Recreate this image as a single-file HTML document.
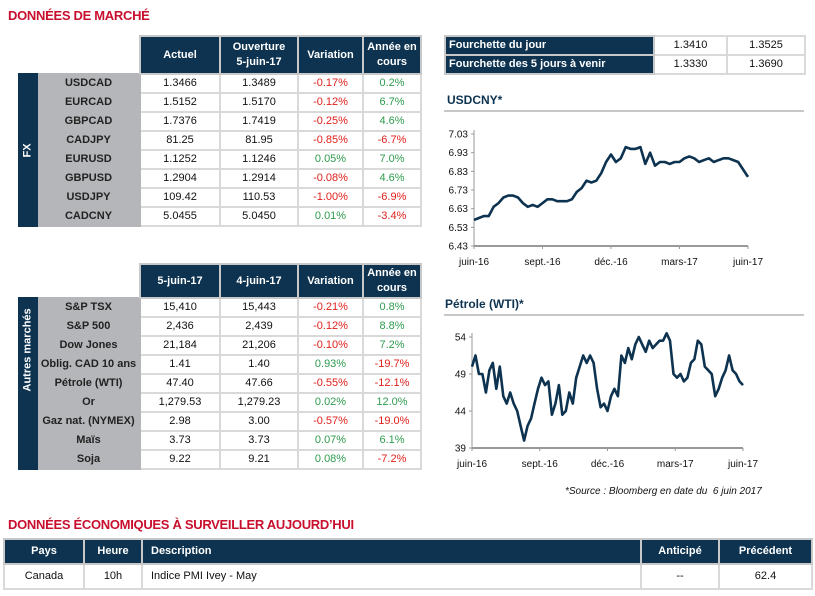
<!DOCTYPE html>
<html><head><meta charset="utf-8">
<style>
*{box-sizing:border-box;margin:0;padding:0}
body{width:815px;height:596px;background:#fff;position:relative;overflow:hidden;font-family:"Liberation Sans",sans-serif;font-size:11px;color:#111}
.title{position:absolute;color:#c8102e;font-weight:bold;font-size:13px;letter-spacing:-0.3px}
table{position:absolute;border-collapse:collapse;table-layout:fixed}
td,th{border:2px solid #d9d9d9;text-align:center;height:19px;line-height:15px;font-size:11px;white-space:nowrap;overflow:hidden}
th{background:#0d3350;color:#fff;font-weight:bold;border-color:#c8c8c8}
td.lab{background:#b5b6b9;font-weight:bold;color:#222;border-color:#b5b6b9}
td.side{background:#0d3350;color:#fff;font-weight:bold;border-color:#0d3350;width:18px}
td.side div{transform:rotate(-90deg);white-space:nowrap}
td.empty{border:none;background:none}
.r{color:#e0201b}.g{color:#2e9b4e}
.ctitle{position:absolute;font-weight:bold;color:#0d3350;font-size:12px}
.hline{position:absolute;height:2px;background:#c8c8c8}
svg{position:absolute;left:0;top:0}
svg text{font-family:"Liberation Sans",sans-serif;font-size:10px;fill:#111}
</style></head><body>
<div class="title" style="left:8px;top:8px">DONNÉES DE MARCHÉ</div>

<table style="left:18px;top:35px;width:402px">
<colgroup><col style="width:18px"><col style="width:103px"><col style="width:80px"><col style="width:78px"><col style="width:65px"><col style="width:58px"></colgroup>
<tr style="height:38px"><td class="empty" colspan="2"></td><th>Actuel</th><th>Ouverture<br>5-juin-17</th><th>Variation</th><th>Année en<br>cours</th></tr>
<tr><td class="side" rowspan="8"><div>FX</div></td><td class="lab">USDCAD</td><td>1.3466</td><td>1.3489</td><td class="r">-0.17%</td><td class="g">0.2%</td></tr>
<tr><td class="lab">EURCAD</td><td>1.5152</td><td>1.5170</td><td class="r">-0.12%</td><td class="g">6.7%</td></tr>
<tr><td class="lab">GBPCAD</td><td>1.7376</td><td>1.7419</td><td class="r">-0.25%</td><td class="g">4.6%</td></tr>
<tr><td class="lab">CADJPY</td><td>81.25</td><td>81.95</td><td class="r">-0.85%</td><td class="r">-6.7%</td></tr>
<tr><td class="lab">EURUSD</td><td>1.1252</td><td>1.1246</td><td class="g">0.05%</td><td class="g">7.0%</td></tr>
<tr><td class="lab">GBPUSD</td><td>1.2904</td><td>1.2914</td><td class="r">-0.08%</td><td class="g">4.6%</td></tr>
<tr><td class="lab">USDJPY</td><td>109.42</td><td>110.53</td><td class="r">-1.00%</td><td class="r">-6.9%</td></tr>
<tr><td class="lab">CADCNY</td><td>5.0455</td><td>5.0450</td><td class="g">0.01%</td><td class="r">-3.4%</td></tr>
</table>

<table style="left:18px;top:263px;width:402px">
<colgroup><col style="width:18px"><col style="width:103px"><col style="width:80px"><col style="width:78px"><col style="width:65px"><col style="width:58px"></colgroup>
<tr style="height:34px"><td class="empty" colspan="2"></td><th>5-juin-17</th><th>4-juin-17</th><th>Variation</th><th>Année en<br>cours</th></tr>
<tr><td class="side" rowspan="9"><div>Autres marchés</div></td><td class="lab">S&amp;P TSX</td><td>15,410</td><td>15,443</td><td class="r">-0.21%</td><td class="g">0.8%</td></tr>
<tr><td class="lab">S&amp;P 500</td><td>2,436</td><td>2,439</td><td class="r">-0.12%</td><td class="g">8.8%</td></tr>
<tr><td class="lab">Dow Jones</td><td>21,184</td><td>21,206</td><td class="r">-0.10%</td><td class="g">7.2%</td></tr>
<tr><td class="lab">Oblig. CAD 10 ans</td><td>1.41</td><td>1.40</td><td class="g">0.93%</td><td class="r">-19.7%</td></tr>
<tr><td class="lab">Pétrole (WTI)</td><td>47.40</td><td>47.66</td><td class="r">-0.55%</td><td class="r">-12.1%</td></tr>
<tr><td class="lab">Or</td><td>1,279.53</td><td>1,279.23</td><td class="g">0.02%</td><td class="g">12.0%</td></tr>
<tr><td class="lab">Gaz nat. (NYMEX)</td><td>2.98</td><td>3.00</td><td class="r">-0.57%</td><td class="r">-19.0%</td></tr>
<tr><td class="lab">Maïs</td><td>3.73</td><td>3.73</td><td class="g">0.07%</td><td class="g">6.1%</td></tr>
<tr><td class="lab">Soja</td><td>9.22</td><td>9.21</td><td class="g">0.08%</td><td class="r">-7.2%</td></tr>
</table>

<table style="left:444px;top:35px;width:360px">
<colgroup><col style="width:209px"><col style="width:73px"><col style="width:78px"></colgroup>
<tr><th style="text-align:left;padding-left:3px">Fourchette du jour</th><td>1.3410</td><td>1.3525</td></tr>
<tr><th style="text-align:left;padding-left:3px">Fourchette des 5 jours à venir</th><td>1.3330</td><td>1.3690</td></tr>
</table>

<div class="ctitle" style="left:447px;top:93px">USDCNY*</div>
<div class="hline" style="left:444px;top:110px;width:360px"></div>
<div class="ctitle" style="left:445px;top:297px">Pétrole (WTI)*</div>
<div class="hline" style="left:444px;top:314px;width:360px"></div>

<svg id="charts" width="815" height="596"></svg>

<div style="position:absolute;left:565px;top:486px;font-style:italic;font-size:10px">*Source : Bloomberg en date du &nbsp;6 juin 2017</div>

<div class="title" style="left:8px;top:517px">DONNÉES ÉCONOMIQUES À SURVEILLER AUJOURD’HUI</div>
<table style="left:3px;top:538px;width:808px">
<colgroup><col style="width:80px"><col style="width:58px"><col style="width:499px"><col style="width:78px"><col style="width:93px"></colgroup>
<tr style="height:25px"><th>Pays</th><th>Heure</th><th style="text-align:left;padding-left:8px">Description</th><th>Anticipé</th><th>Précédent</th></tr>
<tr style="height:25px"><td>Canada</td><td>10h</td><td style="text-align:left;padding-left:8px">Indice PMI Ivey - May</td><td>--</td><td>62.4</td></tr>
</table>

<script>
const months = ["juin-16","sept.-16","déc.-16","mars-17","juin-17"];
const cnyTicks = [6.43,6.53,6.63,6.73,6.83,6.93,7.03];
const cnyValues = [6.57,6.58,6.59,6.59,6.64,6.66,6.69,6.70,6.70,6.69,6.66,6.64,6.65,6.64,6.66,6.68,6.68,6.67,6.67,6.67,6.68,6.72,6.74,6.78,6.77,6.78,6.82,6.88,6.92,6.88,6.90,6.96,6.95,6.95,6.96,6.87,6.93,6.86,6.88,6.88,6.87,6.88,6.88,6.90,6.91,6.90,6.88,6.89,6.90,6.88,6.89,6.90,6.90,6.89,6.88,6.84,6.80];
const wtiTicks = [39,44,49,54];
const wtiValues = [50,51.5,49,49,46.5,49.5,50.5,47,50,46,45,46.5,45,44,42,40,42,43,45,47,48.5,47.5,48,43.5,45,47.5,43.5,44,46.5,45,48.5,50,51.5,50.5,51.5,50.5,47,44.5,45,44,46,47,46,51.5,50.5,52.5,51,53,54,53,52,53.5,52.5,53,53.5,53.5,54.5,53.5,49,48.5,49,48,48.5,50.5,51,53.5,53,50,49.5,49,46,47,48.5,49.5,51.5,49.5,49,48,47.5];

const svg = document.getElementById('charts');
const NS = 'http://www.w3.org/2000/svg';
function mk(tag, attrs){const e=document.createElementNS(NS,tag);for(const k in attrs)e.setAttribute(k,attrs[k]);svg.appendChild(e);return e;}

function drawChart(name, values, ticks, x0, x1, yTop, yBot, labelY, decimals){
  const vmin=ticks[0], vmax=ticks[ticks.length-1];
  const xs=i=>x0+(x1-x0)*i/(values.length-1);
  const ys=v=>yBot-(yBot-yTop)*(v-vmin)/(vmax-vmin);
  const ax=mk('line',{x1:x0,y1:yTop-4,x2:x0,y2:yBot,stroke:'#999','stroke-width':1});
  
  
  const bx=mk('line',{x1:x0,y1:yBot,x2:x1,y2:yBot,stroke:'#999','stroke-width':2});
  
  
  ticks.forEach(t=>{
    mk('line',{x1:x0-3,y1:ys(t),x2:x0,y2:ys(t),stroke:'#999'});
    const tx=mk('text',{x:x0-6,y:ys(t)+3.5,'text-anchor':'end'});
    tx.textContent=t.toFixed(decimals);
    
    
  });
  months.forEach((m,i)=>{
    const x=x0+(x1-x0)*i/(months.length-1);
    mk('line',{x1:x,y1:yBot,x2:x,y2:yBot+3,stroke:'#999'});
    const tx=mk('text',{x:x,y:labelY,'text-anchor':'middle'});
    tx.textContent=m;
    
    
  });
  const d=values.map((v,i)=>(i?'L':'M')+xs(i).toFixed(1)+' '+ys(v).toFixed(1)).join(' ');
  const p=mk('path',{d:d,fill:'none',stroke:'#0d3350','stroke-width':2.6,'stroke-linejoin':'round'});
  
  
}
drawChart('usdcny', cnyValues, cnyTicks, 474, 748, 134, 246, 265, 2);
drawChart('wti', wtiValues, wtiTicks, 472, 743, 337, 448, 467, 0);
</script>
</body></html>
